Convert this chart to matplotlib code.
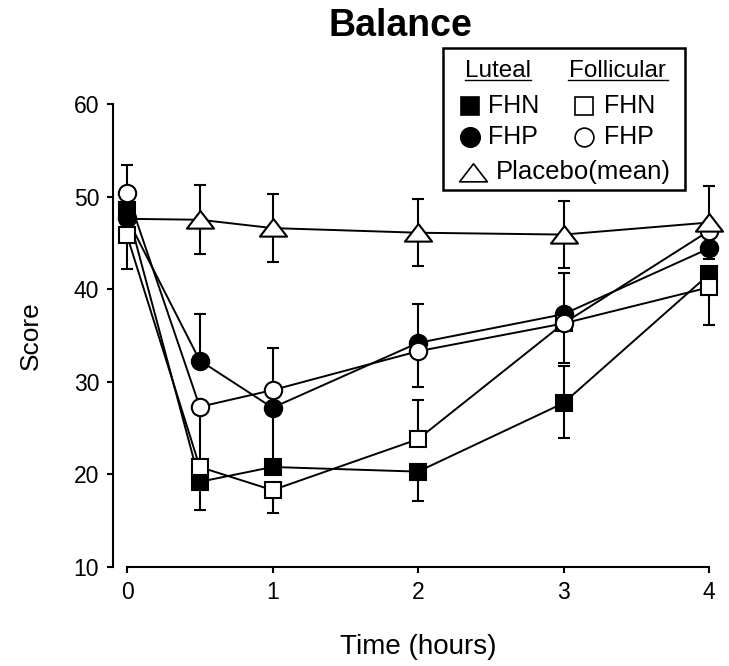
import numpy as np
import matplotlib
matplotlib.use("Agg")
import matplotlib.pyplot as plt
from matplotlib.path import Path

plt.rcParams['font.family'] = ['Liberation Sans', 'DejaVu Sans']

# Balance score over time, five groups
time = [0, 0.5, 1, 2, 3, 4]

lut_fhn = [48.6, 19.2, 20.8, 20.3, 27.7, 41.6]
lut_fhn_lo = [0, 3.0, 0, 3.2, 3.8, 0]
lut_fhn_hi = [0, 0, 0, 0, 4.0, 0]

fol_fhn = [45.8, 20.8, 18.3, 23.8, 36.3, 40.2]
fol_fhn_lo = [3.6, 0, 2.5, 0, 0, 4.1]
fol_fhn_hi = [0, 0, 0, 4.2, 0, 0]

lut_fhp = [47.7, 32.3, 27.2, 34.2, 37.3, 44.4]
lut_fhp_lo = [0, 0, 6.4, 0, 0, 0]
lut_fhp_hi = [0, 5.0, 0, 4.2, 4.4, 0]

fol_fhp = [50.4, 27.3, 29.1, 33.3, 36.3, 46.3]
fol_fhp_lo = [0, 6.2, 0, 3.9, 4.3, 0]
fol_fhp_hi = [3.0, 0, 4.6, 0, 0, 0]

placebo = [47.6, 47.5, 46.6, 46.1, 45.9, 47.2]
placebo_err = [0, 3.7, 3.7, 3.6, 3.6, 3.9]

xticks = [0, 1, 2, 3, 4]
yticks = [10, 20, 30, 40, 50, 60]

# wide flat triangle marker
tri = Path([(-1, -0.6), (1, -0.6), (0, 0.7), (-1, -0.6)],
           [Path.MOVETO, Path.LINETO, Path.LINETO, Path.CLOSEPOLY])

W, H = 729, 666
fig = plt.figure(figsize=(W / 100, H / 100), dpi=100)
ax = fig.add_axes([127 / W, 1 - 567 / H, 582 / W, 463 / H])

# bottom to top drawing order; placebo has no marker at baseline
series = [
    (lut_fhp, lut_fhp_lo, lut_fhp_hi, 'o', 'black', 12.5, None),
    (lut_fhn, lut_fhn_lo, lut_fhn_hi, 's', 'black', 11.5, None),
    (fol_fhn, fol_fhn_lo, fol_fhn_hi, 's', 'white', 11.5, None),
    (fol_fhp, fol_fhp_lo, fol_fhp_hi, 'o', 'white', 12.5, None),
    (placebo, placebo_err, placebo_err, tri, 'white', 19.5, (1, 1)),
]

for vals, lo, hi, mk, fc, ms, every in series:
    ax.errorbar(time, vals, yerr=[lo, hi], fmt='none', ecolor='black',
                elinewidth=1.5, capsize=4.5, capthick=1.5, zorder=1,
                clip_on=False)
for i, (vals, lo, hi, mk, fc, ms, every) in enumerate(series):
    ax.plot(time, vals, color='black', lw=1.4, marker=mk, ms=ms,
            mfc=fc, mec='black', mew=1.5, markevery=every,
            zorder=3 + i, clip_on=False)

ax.set_xlim(0, 4)
ax.set_ylim(10, 60)
ax.set_xticks(xticks)
ax.set_yticks(yticks)
ax.spines['top'].set_visible(False)
ax.spines['right'].set_visible(False)
ax.spines['left'].set_position(('outward', 10))
for s in ['left', 'bottom']:
    ax.spines[s].set_linewidth(1.5)
ax.tick_params(direction='out', length=4, width=1.5, labelsize=16.5, pad=6)
ax.set_xlabel('Time (hours)', fontsize=20, labelpad=22)
ax.set_ylabel('Score', fontsize=19, labelpad=22)

fig.text(400 / W, 1 - 26 / H, 'Balance', fontsize=27, fontweight='bold',
         ha='center', va='center')

# legend drawn by hand in pixel space
lg = fig.add_axes([0, 0, 1, 1], facecolor='none')
lg.set_xlim(0, W)
lg.set_ylim(H, 0)
lg.axis('off')
lg.add_patch(plt.Rectangle((443, 48), 242, 142, fill=False, lw=1.8,
                           ec='black'))
for cx, txt in [(498, 'Luteal'), (617, 'Follicular')]:
    lg.text(cx, 71, txt, fontsize=17.5, ha='center', va='center')
lg.plot([465, 531], [80, 80], color='black', lw=1)
lg.plot([568, 668], [80, 80], color='black', lw=1)

items = [
    (470, 106, 's', 'black', 13, 'FHN', 488),
    (584, 106, 's', 'white', 12.5, 'FHN', 604),
    (470, 137, 'o', 'black', 14, 'FHP', 488),
    (584, 137, 'o', 'white', 13.5, 'FHP', 604),
]
for mx, my, mk, fc, ms, txt, tx in items:
    lg.plot([mx], [my], marker=mk, ms=ms, mfc=fc, mec='black', mew=1.2)
    lg.text(tx, my, txt, fontsize=18, ha='left', va='center')
lg.plot([473], [173], marker=tri, ms=20, mfc='white', mec='black', mew=1.2)
lg.text(496, 172, 'Placebo(mean)', fontsize=18.5, ha='left', va='center')

fig.savefig('out.png', dpi=100)
